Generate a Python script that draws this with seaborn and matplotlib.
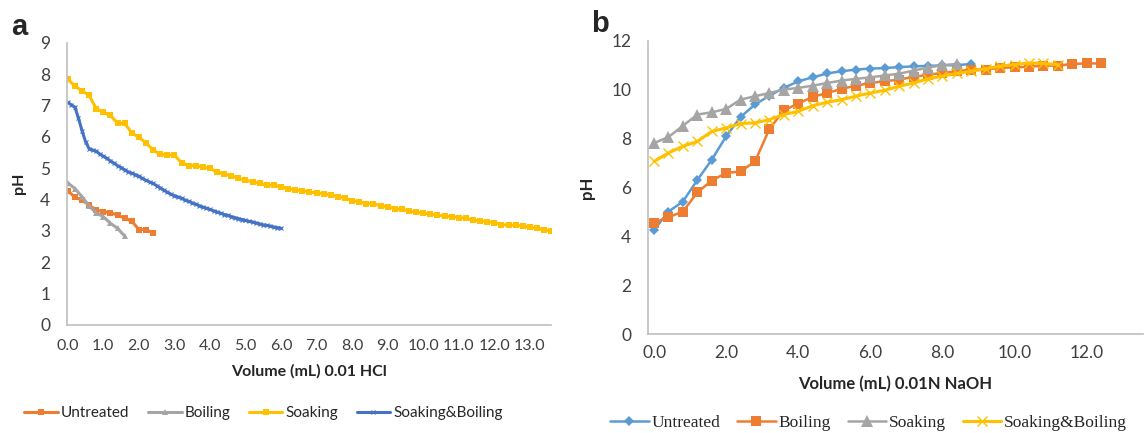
import numpy as np
import pandas as pd
import matplotlib
matplotlib.use("Agg")
import matplotlib.pyplot as plt
from matplotlib.ticker import MultipleLocator
import seaborn as sns

# ---- panel a: titration with 0.01 HCl (step 0.2 mL, Soaking&Boiling step 0.1 mL)
a_untreated = [4.28, 4.07, 3.98, 3.82, 3.66, 3.61, 3.58, 3.50, 3.40, 3.31, 3.04, 3.04, 2.92]
a_boiling = [4.53, 4.35, 4.09, 3.79, 3.57, 3.45, 3.24, 3.08, 2.83]
a_soaking = [7.84, 7.62, 7.47, 7.33, 6.90, 6.78, 6.69, 6.43, 6.43, 6.13,
             5.98, 5.81, 5.58, 5.44, 5.42, 5.42, 5.17, 5.08, 5.08, 5.04,
             4.99, 4.88, 4.81, 4.76, 4.67, 4.62, 4.56, 4.51, 4.46, 4.46,
             4.40, 4.35, 4.30, 4.28, 4.24, 4.21, 4.19, 4.14, 4.09, 4.05,
             3.96, 3.93, 3.87, 3.87, 3.79, 3.77, 3.71, 3.68, 3.63, 3.59,
             3.56, 3.53, 3.50, 3.47, 3.45, 3.42, 3.40, 3.34, 3.32, 3.29,
             3.26, 3.20, 3.18, 3.18, 3.15, 3.11, 3.08, 3.04, 2.99]
a_soak_boil = [7.10, 7.02, 6.95, 6.60, 6.20, 5.85, 5.62, 5.58, 5.54, 5.45,
               5.38, 5.31, 5.23, 5.16, 5.08, 5.02, 4.95, 4.88, 4.84, 4.79,
               4.74, 4.67, 4.61, 4.56, 4.51, 4.44, 4.37, 4.30, 4.23, 4.17,
               4.12, 4.08, 4.04, 3.98, 3.94, 3.89, 3.85, 3.80, 3.76, 3.72,
               3.68, 3.64, 3.60, 3.56, 3.52, 3.49, 3.45, 3.42, 3.39, 3.36,
               3.33, 3.30, 3.28, 3.25, 3.22, 3.19, 3.17, 3.15, 3.12, 3.10, 3.08]

# ---- panel b: titration with 0.01N NaOH (step 0.4 mL)
b_untreated = [4.26, 5.01, 5.42, 6.30, 7.13, 8.09, 8.88, 9.39, 9.75, 10.07,
               10.34, 10.50, 10.66, 10.75, 10.82, 10.86, 10.88, 10.92, 10.95,
               10.97, 10.99, 11.00, 11.05]
b_boiling = [4.56, 4.78, 5.01, 5.79, 6.28, 6.59, 6.65, 7.06, 8.39, 9.15,
             9.43, 9.70, 9.86, 10.03, 10.16, 10.27, 10.34, 10.41, 10.52, 10.61,
             10.68, 10.75, 10.82, 10.82, 10.89, 10.91, 10.93, 10.98, 10.98,
             11.05, 11.07, 11.07]
b_soaking = [7.81, 8.06, 8.52, 8.98, 9.07, 9.21, 9.59, 9.73, 9.86, 10.00,
             10.07, 10.16, 10.27, 10.37, 10.44, 10.50, 10.58, 10.65, 10.78,
             10.90, 11.00, 11.05]
b_soak_boil = [7.06, 7.41, 7.68, 7.88, 8.29, 8.43, 8.61, 8.64, 8.77, 8.98,
               9.11, 9.34, 9.48, 9.59, 9.73, 9.86, 9.97, 10.14, 10.27, 10.44,
               10.55, 10.66, 10.75, 10.85, 10.96, 11.02, 11.09, 11.07, 11.02]

names = ["Untreated", "Boiling", "Soaking", "Soaking&Boiling"]

sns.set_style("white")
plt.rcParams["font.family"] = ["Lato", "DejaVu Sans"]

fig = plt.figure(figsize=(11.46, 4.33), dpi=100)
ax1 = fig.add_axes([0.0585, 0.25, 0.4225, 0.651])
ax2 = fig.add_axes([0.5654, 0.2286, 0.4316, 0.6774])

axis_grey = "#BFBFBF"


def vol(values, step):
    return np.round(np.arange(len(values)) * step, 2)


# panel a
a_series = [
    (a_untreated, 0.2, "#ED7D31", "s", 4.5),
    (a_boiling, 0.2, "#A5A5A5", "^", 5),
    (a_soaking, 0.2, "#FFC000", "s", 4.5),
    (a_soak_boil, 0.1, "#4472C4", "x", 3.5),
]
for name, (vals, step, col, mk, ms) in zip(names, a_series):
    df = pd.DataFrame({"Volume": vol(vals, step), "pH": vals})
    sns.lineplot(data=df, x="Volume", y="pH", ax=ax1, color=col, marker=mk,
                 markersize=ms, markeredgecolor=col, markeredgewidth=0.8 if mk == "x" else 0,
                 linewidth=2.2, label=name, sort=False, estimator=None)

ax1.set_xlim(-0.02, 13.6)
ax1.set_ylim(0, 9)
ax1.xaxis.set_major_locator(MultipleLocator(1.0))
ax1.xaxis.set_minor_locator(MultipleLocator(0.2))
ax1.xaxis.set_major_formatter(plt.FuncFormatter(lambda v, p: f"{v:.1f}"))
ax1.yaxis.set_major_locator(MultipleLocator(1))
ax1.set_xlabel("Volume (mL) 0.01 HCl", fontsize=11.5, fontweight="bold", labelpad=8)
ax1.set_ylabel("pH", fontsize=11.5, fontweight="bold", labelpad=10)

# panel b
b_series = [
    (b_untreated, "#5B9BD5", "D", 5),
    (b_boiling, "#ED7D31", "s", 7.5),
    (b_soaking, "#A5A5A5", "^", 8),
    (b_soak_boil, "#FFC000", "x", 7),
]
for name, (vals, col, mk, ms) in zip(names, b_series):
    df = pd.DataFrame({"Volume": vol(vals, 0.4), "pH": vals})
    sns.lineplot(data=df, x="Volume", y="pH", ax=ax2, color=col, marker=mk,
                 markersize=ms, markeredgecolor=col, markeredgewidth=1.0 if mk == "x" else 0,
                 linewidth=2.2 if mk == "x" else 1.8, label=name, sort=False, estimator=None)

ax2.set_xlim(-0.17, 13.55)
ax2.set_ylim(0, 12)
ax2.set_xticks(np.arange(0, 13, 2.0))
ax2.xaxis.set_minor_locator(plt.FixedLocator(np.arange(-0.2, 13.5, 0.4)))
ax2.xaxis.set_major_formatter(plt.FuncFormatter(lambda v, p: f"{v:.1f}"))
ax2.yaxis.set_major_locator(MultipleLocator(2))
ax2.set_xlabel("Volume (mL) 0.01N NaOH", fontsize=12, fontweight="bold", labelpad=11)
ax2.set_ylabel("pH", fontsize=12, fontweight="bold", labelpad=12)

for ax in (ax1, ax2):
    sns.despine(ax=ax)
    for s in ("left", "bottom"):
        ax.spines[s].set_color(axis_grey)
        ax.spines[s].set_linewidth(1.2)
    ax.tick_params(axis="both", which="both", direction="out", color=axis_grey,
                   width=1, labelsize=12.5, labelcolor="#404040")
    ax.tick_params(axis="x", which="major", length=5, pad=5)
    ax.tick_params(axis="x", which="minor", length=5)
    ax.tick_params(axis="y", which="major", length=5, pad=7)

ax1.tick_params(axis="x", which="major", labelsize=11.5)
ax2.tick_params(axis="x", which="major", length=0, pad=8)

# legends
h1, l1 = ax1.get_legend_handles_labels()
ax1.legend(h1, l1, loc="center", bbox_to_anchor=(0.23, 0.046), bbox_transform=fig.transFigure,
           ncol=4, frameon=False, fontsize=11, handlelength=2.2, columnspacing=1.2,
           handletextpad=0.2)
h2, l2 = ax2.get_legend_handles_labels()
ax2.legend(h2, l2, loc="center", bbox_to_anchor=(0.758, 0.024), bbox_transform=fig.transFigure,
           ncol=4, frameon=False, handlelength=2.2, columnspacing=1.0, handletextpad=0.15,
           prop={"family": ["Liberation Serif"], "size": 12.5})

fig.text(0.010, 0.92, "a", fontsize=21, fontweight="bold", family=["Liberation Sans", "DejaVu Sans"])
fig.text(0.516, 0.925, "b", fontsize=21, fontweight="bold", family=["Liberation Sans", "DejaVu Sans"])

fig.savefig("out.png", dpi=100)
